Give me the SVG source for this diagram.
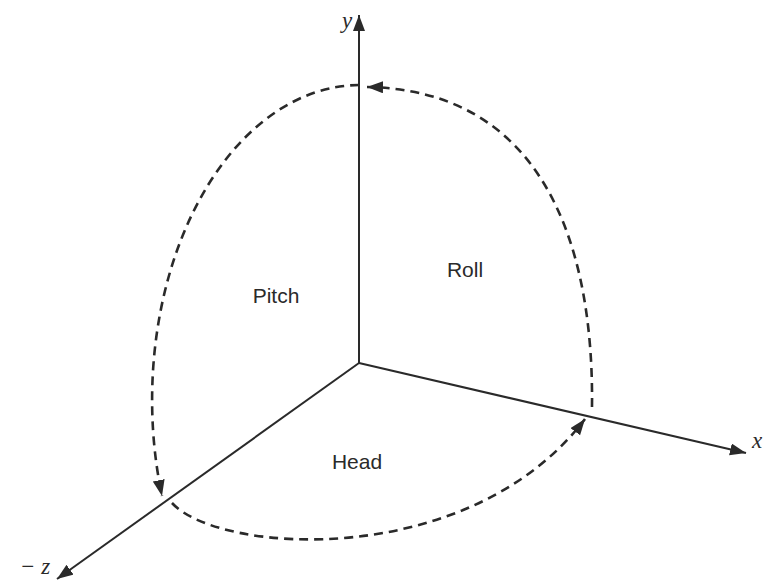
<svg xmlns="http://www.w3.org/2000/svg" width="764" height="583" viewBox="0 0 764 583">
<style>
.axis{stroke:#2a2a2a;stroke-width:2;fill:none}
.arc{stroke:#2a2a2a;stroke-width:2.6;fill:none;stroke-dasharray:9 6}
.lbl{font-family:"Liberation Sans",Arial,sans-serif;font-size:21px;fill:#2a2a2a}
.ax{font-family:"Liberation Serif","Times New Roman",serif;font-style:italic;font-size:23px;fill:#2a2a2a}
</style>
<defs>
<marker id="ah" markerUnits="userSpaceOnUse" markerWidth="18" markerHeight="13" refX="16" refY="6" orient="auto" viewBox="0 0 18 13">
<path d="M0,0 L16,6 L0,12 z" fill="#2a2a2a"/>
</marker>
</defs>
<rect width="764" height="583" fill="#ffffff"/>
<g id="connectors">
<path class="axis" d="M359 363 L359 15" marker-end="url(#ah)"/>
<path class="axis" d="M359 363 L746 453" marker-end="url(#ah)"/>
<path class="axis" d="M359 363 L57 579" marker-end="url(#ah)"/>
<path class="arc" d="M359 85 A208 315 0 0 0 162 496" marker-end="url(#ah)"/>
<path class="arc" d="M592 407 C594 240 540 90 367 87" marker-end="url(#ah)"/>
<path class="arc" d="M172 503 C220 555 470 570 585 419" marker-end="url(#ah)"/>
</g>
<g id="labels">
<text class="ax" x="342" y="28">y</text>
<text class="ax" x="752" y="448">x</text>
<text class="ax" x="20" y="574">− z</text>
<text class="lbl" x="276" y="303" text-anchor="middle">Pitch</text>
<text class="lbl" x="465" y="277" text-anchor="middle">Roll</text>
<text class="lbl" x="357" y="469" text-anchor="middle">Head</text>
</g>
</svg>
